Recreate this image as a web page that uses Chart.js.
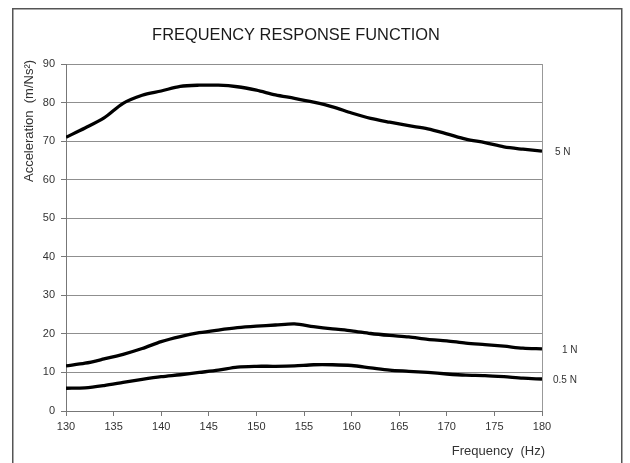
<!DOCTYPE html>
<html>
<head>
<meta charset="utf-8">
<script src="https://cdn.jsdelivr.net/npm/chart.js@4/dist/chart.umd.min.js"></script>
<style>
  html, body { margin: 0; padding: 0; background: #fff; }
  #wrap { width: 630px; height: 463px; position: relative; }
</style>
</head>
<body>
<div id="wrap"><canvas id="c" width="630" height="463"></canvas></div>
<script>
// Excitation frequency (Hz)
const frequency = [130, 132, 134, 136, 138, 140, 142, 144, 146, 148, 150, 152, 154,
                   156, 158, 160, 162, 164, 166, 168, 170, 172, 174, 176, 178, 180];

// Acceleration per unit force (m/Ns²) for each excitation level
const accel5N  = [71.0, 73.4, 76.0, 79.8, 81.9, 83.0, 84.2, 84.5, 84.5, 84.1, 83.2, 82.0, 81.1,
                  80.1, 78.9, 77.3, 75.9, 74.9, 74.0, 73.2, 71.9, 70.5, 69.6, 68.5, 67.9, 67.4];
const accel1N  = [11.7, 12.4, 13.5, 14.7, 16.2, 18.0, 19.3, 20.3, 21.0, 21.6, 22.0, 22.3, 22.6,
                  21.9, 21.3, 20.8, 20.1, 19.6, 19.2, 18.6, 18.2, 17.6, 17.2, 16.8, 16.3, 16.1];
const accel05N = [5.9, 6.0, 6.6, 7.4, 8.2, 8.9, 9.4, 10.0, 10.6, 11.4, 11.6, 11.6, 11.7,
                  12.0, 12.0, 11.8, 11.2, 10.6, 10.3, 10.0, 9.6, 9.3, 9.2, 8.9, 8.5, 8.3];

const seriesNames = ['5 N', '1 N', '0.5 N'];
const seriesValues = [accel5N, accel1N, accel05N];

const xTicks = [130, 135, 140, 145, 150, 155, 160, 165, 170, 175, 180];
const yTicks = [0, 10, 20, 30, 40, 50, 60, 70, 80, 90];

const chartTitle = 'FREQUENCY RESPONSE FUNCTION';
const yTitle = 'Acceleration  (m/Ns²)';
const xTitle = 'Frequency  (Hz)';

const FONT = '"Liberation Sans", Arial, sans-serif';

// Frame, title, axis titles and end-of-line series labels
const decorations = {
  id: 'decorations',
  beforeDraw(chart) {
    const ctx = chart.ctx;
    ctx.save();
    ctx.fillStyle = '#fff';
    ctx.fillRect(0, 0, chart.width, chart.height);
    ctx.strokeStyle = '#555';
    ctx.lineWidth = 1.5;
    ctx.strokeRect(12.75, 8.75, 609, 470);
    ctx.restore();
  },
  afterDatasetsDraw(chart) {
    const ctx = chart.ctx;
    const area = chart.chartArea;
    const ys = chart.scales.y;
    ctx.save();
    // right edge of the plot area
    ctx.strokeStyle = '#999';
    ctx.lineWidth = 1;
    ctx.beginPath();
    ctx.moveTo(Math.round(area.right) + 0.5, area.top);
    ctx.lineTo(Math.round(area.right) + 0.5, area.bottom);
    ctx.stroke();

    // chart title
    ctx.fillStyle = '#1a1a1a';
    ctx.font = '16.4px ' + FONT;
    ctx.textAlign = 'center';
    ctx.textBaseline = 'middle';
    ctx.fillText(chartTitle, 296, 35);

    // y axis title
    ctx.fillStyle = '#333';
    ctx.font = '13px ' + FONT;
    ctx.save();
    ctx.translate(29, 121);
    ctx.rotate(-Math.PI / 2);
    ctx.textAlign = 'center';
    ctx.textBaseline = 'middle';
    ctx.fillText(yTitle, 0, 0);
    ctx.restore();

    // x axis title
    ctx.textAlign = 'right';
    ctx.textBaseline = 'middle';
    ctx.fillText(xTitle, area.right + 3, 451);

    // series labels next to the last point of each curve
    const offsets = [13, 20, 11];
    ctx.font = '10px ' + FONT;
    ctx.textAlign = 'left';
    seriesValues.forEach((vals, i) => {
      const yy = ys.getPixelForValue(vals[vals.length - 1]);
      ctx.fillText(seriesNames[i], area.right + offsets[i], yy + 1);
    });
    ctx.restore();
  }
};

const datasets = seriesValues.map((vals, i) => ({
  label: seriesNames[i],
  data: frequency.map((f, k) => ({ x: f, y: vals[k] })),
  borderColor: '#000',
  borderWidth: 3.3,
  pointRadius: 0,
  tension: 0.3,
  fill: false
}));

new Chart(document.getElementById('c'), {
  type: 'line',
  data: { datasets },
  options: {
    responsive: false,
    animation: false,
    devicePixelRatio: 1,
    layout: { padding: { top: 64, right: 88, left: 0, bottom: 0 } },
    plugins: {
      legend: { display: false },
      tooltip: { enabled: false },
      title: { display: false }
    },
    scales: {
      x: {
        type: 'linear',
        min: 130,
        max: 180,
        afterFit(scale) { scale.height = 52; },
        afterBuildTicks(scale) { scale.ticks = xTicks.map(v => ({ value: v })); },
        grid: {
          drawOnChartArea: false,
          drawTicks: true,
          tickLength: 5,
          tickColor: '#777'
        },
        border: { display: true, color: '#777', width: 1 },
        ticks: {
          color: '#333',
          font: { family: FONT, size: 11 },
          padding: 4,
          maxRotation: 0
        }
      },
      y: {
        min: 0,
        max: 90,
        afterFit(scale) { scale.width = 66; },
        afterBuildTicks(scale) { scale.ticks = yTicks.map(v => ({ value: v })); },
        grid: {
          color: '#8f8f8f',
          lineWidth: 1,
          drawTicks: true,
          tickLength: 5,
          tickColor: '#777'
        },
        border: { display: true, color: '#777', width: 1 },
        ticks: {
          color: '#333',
          font: { family: FONT, size: 11 },
          padding: 6
        }
      }
    }
  },
  plugins: [decorations]
});
</script>
</body>
</html>
